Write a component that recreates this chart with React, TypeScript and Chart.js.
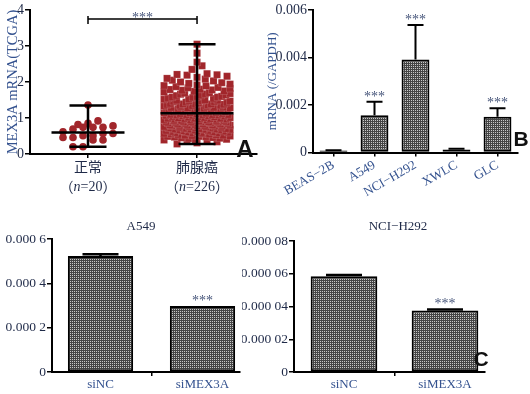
import React, { useEffect, useRef } from "react";
import { Chart, registerables } from "chart.js";

Chart.register(...registerables);

// ================= Panel A : TCGA dot plot =================
const groupLabels = ["正常", "肺腺癌"];
const groupSizes = ["20", "226"];
const normalValues = [1.36, 0.92, 0.85, 0.82, 0.78, 0.74, 0.74, 0.74, 0.69, 0.62, 0.57, 0.57, 0.51, 0.51, 0.46, 0.46, 0.39, 0.39, 0.2, 0.2];
const tumorValues = [
  0.28,
  0.31, 0.34, 0.35, 0.37, 0.39,
  0.40, 0.41, 0.43, 0.44, 0.45, 0.46, 0.47, 0.48, 0.49, 0.49,
  0.50, 0.51, 0.52, 0.52, 0.53, 0.54, 0.55, 0.56, 0.56, 0.57, 0.58, 0.58, 0.59, 0.59,
  0.60, 0.61, 0.61, 0.62, 0.63, 0.63, 0.64, 0.65, 0.65, 0.66, 0.67, 0.67, 0.68, 0.68, 0.69, 0.69, 0.69,
  0.70, 0.70, 0.71, 0.72, 0.72, 0.73, 0.74, 0.74, 0.75, 0.76, 0.76, 0.77, 0.78, 0.78, 0.79, 0.79, 0.79,
  0.80, 0.80, 0.81, 0.81, 0.82, 0.83, 0.83, 0.84, 0.85, 0.85, 0.86, 0.86, 0.87, 0.88, 0.88, 0.89, 0.89, 0.89, 0.89,
  0.90, 0.90, 0.91, 0.92, 0.92, 0.93, 0.93, 0.94, 0.95, 0.95, 0.96, 0.96, 0.97, 0.97, 0.98, 0.98, 0.99, 0.99, 0.99,
  1.00, 1.01, 1.01, 1.02, 1.03, 1.04, 1.04, 1.05, 1.06, 1.06, 1.07, 1.07, 1.08, 1.08, 1.09, 1.09, 1.09, 1.09,
  1.10, 1.11, 1.12, 1.12, 1.13, 1.14, 1.14, 1.15, 1.16, 1.16, 1.17, 1.18, 1.18, 1.19, 1.19, 1.19,
  1.20, 1.21, 1.22, 1.23, 1.23, 1.24, 1.25, 1.26, 1.26, 1.27, 1.28, 1.28, 1.29, 1.29, 1.29,
  1.30, 1.31, 1.32, 1.33, 1.34, 1.35, 1.35, 1.36, 1.37, 1.38, 1.38, 1.39, 1.39,
  1.40, 1.41, 1.43, 1.44, 1.45, 1.46, 1.47, 1.47, 1.48, 1.49, 1.49,
  1.50, 1.52, 1.53, 1.54, 1.55, 1.57, 1.58, 1.58, 1.59,
  1.60, 1.62, 1.63, 1.64, 1.66, 1.67, 1.68, 1.69,
  1.70, 1.72, 1.74, 1.75, 1.77, 1.78, 1.79,
  1.80, 1.82, 1.84, 1.85, 1.87, 1.89,
  1.90, 1.92, 1.94, 1.96, 1.98,
  2.00, 2.03, 2.05, 2.08,
  2.10, 2.13, 2.16, 2.19,
  2.20, 2.21, 2.23,
  2.35, 2.45, 2.55, 2.80, 3.05,
];
const groupMeans = [0.6, 1.13];
const groupMins = [0.2, 0.28];
const groupMaxs = [1.35, 3.05];
const yTicksA = [0, 1, 2, 3, 4];
const yTickLabelsA = ["0", "1", "2", "3", "4"];
const yTitleA = "MEX3A mRNA(TCGA)";
const sigLabelA = "***";
const sigBracketA = 3.75;

// ================= Panel B : cell lines =================
const cellLines = ["BEAS−2B", "A549", "NCI−H292", "XWLC", "GLC"];
const relExpression = [0.00008, 0.00157, 0.00392, 0.00013, 0.00151];
const relExpressionUpper = [0.0001, 0.00214, 0.00537, 0.00016, 0.00186];
const sigB = ["", "***", "***", "", "***"];
const yTicksB = [0, 0.002, 0.004, 0.006];
const yTickLabelsB = ["0", "0.002", "0.004", "0.006"];
const yTitleB = "mRNA (/GAPDH)";

// ================= Panel C : siRNA knock-down =================
const siGroups = ["siNC", "siMEX3A"];
const titleC1 = "A549";
const valuesC1 = [0.000523, 0.000298];
const upperC1 = [0.000531, 0.000298];
const sigC1 = ["", "***"];
const yTicksC1 = [0, 0.0002, 0.0004, 0.0006];
const yTickLabelsC1 = ["0", "0.000 2", "0.000 4", "0.000 6"];
const titleC2 = "NCI−H292";
const valuesC2 = [0.0000585, 0.0000375];
const upperC2 = [0.0000592, 0.0000382];
const sigC2 = ["", "***"];
const yTicksC2 = [0, 0.00002, 0.00004, 0.00006, 0.00008];
const yTickLabelsC2 = ["0", "0.000 02", "0.000 04", "0.000 06", "0.000 08"];

// ================= styles =================
const SERIF = "'Liberation Serif', 'Times New Roman', serif";
const SERIF_CJK = "'Liberation Serif', 'Noto Sans CJK SC', serif";
const CJK = "'Noto Sans CJK SC', sans-serif";
const SANS = "'Liberation Sans', Arial, sans-serif";
const INK = "#1f2a48";
const BLUE = "#34528f";
const STAR = "#46557a";
const RED = "#a1262b";

function gcd(a: number, b: number): number {
  return b === 0 ? a : gcd(b, a % b);
}

// row-based dot-plot layout (pixel offsets), GraphPad style
function swarmOffsets(values: number[], bin: number, maxStep: number, maxWidth: number, mix: boolean): number[] {
  const groups = new Map<number, number[]>();
  values.forEach((v, i) => {
    const k = Math.floor(v / bin + 1e-9);
    if (!groups.has(k)) groups.set(k, []);
    groups.get(k)!.push(i);
  });
  const off = new Array(values.length).fill(0);
  groups.forEach((idx) => {
    idx.sort((a, b) => values[a] - values[b]);
    const n = idx.length;
    const step = n > 1 ? Math.min(maxStep, maxWidth / (n - 1)) : 0;
    let s = Math.max(1, Math.round(n * 0.382));
    while (mix && n > 2 && gcd(s, n) !== 1) s++;
    idx.forEach((id, j) => {
      const slot = mix && n > 2 ? (j * s) % n : j;
      off[id] = (slot - (n - 1) / 2) * step;
    });
  });
  return off;
}

function makePattern(ctx: CanvasRenderingContext2D) {
  const c = document.createElement("canvas");
  c.width = 2;
  c.height = 2;
  const p = c.getContext("2d")!;
  p.fillStyle = "#454545";
  p.fillRect(0, 0, 2, 2);
  p.fillStyle = "#c8c8c8";
  p.fillRect(0, 0, 1, 1);
  return ctx.createPattern(c, "repeat")!;
}

function yAxis(o: {
  min: number; max: number; ticks: number[]; labels: string[]; width: number; size: number;
  title?: string; titleSize?: number; titlePad?: number;
}) {
  return {
    type: "linear",
    position: "left",
    min: o.min,
    max: o.max,
    afterBuildTicks: (s: any) => {
      s.ticks = o.ticks.map((v) => ({ value: v }));
    },
    afterFit: (s: any) => {
      s.width = o.width;
    },
    ticks: {
      callback: (_v: any, i: number) => o.labels[i],
      font: { family: SERIF, size: o.size },
      color: INK,
      padding: 1,
      autoSkip: false,
    },
    grid: { drawOnChartArea: false, drawTicks: true, tickLength: 5, color: "#000", lineWidth: 1.5 },
    border: { display: true, color: "#000", width: 2 },
    title: o.title
      ? {
          display: true,
          text: o.title,
          color: BLUE,
          font: { family: SERIF, size: o.titleSize },
          padding: { top: o.titlePad, bottom: 0 },
        }
      : { display: false },
  };
}

function drawLetter(ctx: CanvasRenderingContext2D, text: string, x: number, y: number, size: number) {
  ctx.save();
  ctx.fillStyle = "#111";
  ctx.font = `bold ${size}px ${SANS}`;
  ctx.textAlign = "center";
  ctx.textBaseline = "middle";
  ctx.fillText(text, x, y);
  ctx.restore();
}

// ---------- Panel A config ----------
function makeA() {
  const xMin = -0.532;
  const xMax = 1.55;
  const areaW = 227;
  const ppu = areaW / (xMax - xMin);
  const nOff = swarmOffsets(normalValues, 0.2, 10, 52, false);
  const tOff = swarmOffsets(tumorValues, 0.19, 10, 66, true);

  const decor = {
    id: "decorA",
    afterDatasetsDraw(chart: any) {
      const { ctx, scales } = chart;
      const x = scales.x;
      const y = scales.y;
      ctx.save();
      ctx.strokeStyle = "#000";
      ctx.lineWidth = 2.5;
      groupMeans.forEach((m, i) => {
        const cx = x.getPixelForValue(i);
        const yLo = y.getPixelForValue(groupMins[i]);
        const yHi = y.getPixelForValue(groupMaxs[i]);
        const yM = y.getPixelForValue(m);
        ctx.beginPath();
        ctx.moveTo(cx, yLo);
        ctx.lineTo(cx, yHi);
        ctx.moveTo(cx - 18.5, yLo);
        ctx.lineTo(cx + 18.5, yLo);
        ctx.moveTo(cx - 18.5, yHi);
        ctx.lineTo(cx + 18.5, yHi);
        ctx.moveTo(cx - 36.5, yM);
        ctx.lineTo(cx + 36.5, yM);
        ctx.stroke();
      });
      // significance bracket
      const x0 = x.getPixelForValue(0);
      const x1 = x.getPixelForValue(1);
      const by = y.getPixelForValue(sigBracketA);
      ctx.lineWidth = 1.5;
      ctx.beginPath();
      ctx.moveTo(x0, by - 3);
      ctx.lineTo(x0, by + 5);
      ctx.moveTo(x1, by - 3);
      ctx.lineTo(x1, by + 5);
      ctx.moveTo(x0, by);
      ctx.lineTo(x1, by);
      ctx.stroke();
      ctx.fillStyle = STAR;
      ctx.font = `14px ${SERIF}`;
      ctx.textAlign = "center";
      ctx.textBaseline = "alphabetic";
      ctx.fillText(sigLabelA, (x0 + x1) / 2, by + 3);
      ctx.restore();
    },
    afterDraw(chart: any) {
      const { ctx, scales, chartArea } = chart;
      const x = scales.x;
      ctx.save();
      ctx.fillStyle = INK;
      ctx.textAlign = "left";
      ctx.textBaseline = "middle";
      groupSizes.forEach((n, i) => {
        const cx = x.getPixelForValue(i);
        const cy = chartArea.bottom + 33;
        const parts = [
          { t: "（", f: `14px ${CJK}` },
          { t: "n", f: `italic 14px ${SERIF}` },
          { t: "=" + n, f: `14px ${SERIF}` },
          { t: "）", f: `14px ${CJK}` },
        ];
        const widths = parts.map((p) => {
          ctx.font = p.f;
          return ctx.measureText(p.t).width;
        });
        let xx = cx - widths.reduce((a, b) => a + b, 0) / 2;
        parts.forEach((p, k) => {
          ctx.font = p.f;
          ctx.fillText(p.t, xx, cy);
          xx += widths[k];
        });
      });
      ctx.restore();
      drawLetter(ctx, "A", chartArea.right - 12, chartArea.bottom - 4, 24);
    },
  };

  return {
    type: "scatter",
    data: {
      datasets: [
        {
          data: normalValues.map((v, i) => ({ x: 0 + nOff[i] / ppu, y: v })),
          pointStyle: "circle",
          pointRadius: 3.8,
          backgroundColor: RED,
          borderWidth: 0,
        },
        {
          data: tumorValues.map((v, i) => ({ x: 1 + tOff[i] / ppu, y: v })),
          pointStyle: "rect",
          pointRadius: 5,
          backgroundColor: RED,
          borderColor: "rgba(255,255,255,0.3)",
          borderWidth: 0.5,
        },
      ],
    },
    options: {
      responsive: false,
      animation: false,
      events: [],
      layout: { padding: { left: 0, top: 10, right: 8, bottom: 0 } },
      plugins: { legend: { display: false }, tooltip: { enabled: false } },
      scales: {
        x: {
          type: "linear",
          min: xMin,
          max: xMax,
          afterBuildTicks: (s: any) => {
            s.ticks = [{ value: 0 }, { value: 1 }];
          },
          afterFit: (s: any) => {
            s.height = 46;
          },
          ticks: {
            callback: (_v: any, i: number) => groupLabels[i],
            font: { family: SERIF_CJK, size: 14 },
            color: INK,
            padding: 2,
            minRotation: 0,
            maxRotation: 0,
          },
          grid: { drawOnChartArea: false, tickLength: 4, color: "#000", lineWidth: 1.5 },
          border: { display: true, color: "#000", width: 2 },
        },
        y: yAxis({ min: 0, max: 4, ticks: yTicksA, labels: yTickLabelsA, width: 30, size: 14, title: yTitleA, titleSize: 14.5, titlePad: 4 }),
      },
    },
    plugins: [decor],
  };
}

function barDecor(o: {
  upper: number[]; sig: string[]; capHalf: number; lw: number; starSize: number; starColor: string;
  title?: string; titleDx?: number; titleY?: number; letter?: string; letterDx?: number; letterDy?: number;
}) {
  return {
    id: "barDecor",
    afterDatasetsDraw(chart: any) {
      const { ctx, scales } = chart;
      const y = scales.y;
      const bars = chart.getDatasetMeta(0).data;
      ctx.save();
      ctx.strokeStyle = "#000";
      ctx.lineWidth = o.lw;
      bars.forEach((bar: any, i: number) => {
        const top = bar.y;
        const up = y.getPixelForValue(o.upper[i]);
        if (up < top - 0.3) {
          ctx.beginPath();
          ctx.moveTo(bar.x, top);
          ctx.lineTo(bar.x, up);
          ctx.moveTo(bar.x - o.capHalf, up);
          ctx.lineTo(bar.x + o.capHalf, up);
          ctx.stroke();
        }
        if (o.sig[i]) {
          ctx.fillStyle = o.starColor;
          ctx.font = `${o.starSize}px ${SERIF}`;
          ctx.textAlign = "center";
          ctx.textBaseline = "alphabetic";
          ctx.fillText(o.sig[i], bar.x, Math.min(up, top) - 1);
        }
      });
      ctx.restore();
    },
    afterDraw(chart: any) {
      const { ctx, chartArea } = chart;
      if (o.title) {
        ctx.save();
        ctx.fillStyle = INK;
        ctx.font = `13px ${SERIF}`;
        ctx.textAlign = "center";
        ctx.textBaseline = "middle";
        ctx.fillText(o.title, (chartArea.left + chartArea.right) / 2 + (o.titleDx || 0), o.titleY || 12);
        ctx.restore();
      }
      if (o.letter) {
        drawLetter(ctx, o.letter, chartArea.right + (o.letterDx || 0), chartArea.bottom + (o.letterDy || 0), 21);
      }
    },
  };
}

// ---------- Panel B config ----------
function makeB(ctx: CanvasRenderingContext2D) {
  return {
    type: "bar",
    data: {
      labels: cellLines,
      datasets: [
        {
          data: relExpression,
          backgroundColor: makePattern(ctx),
          borderColor: "#000",
          borderWidth: 2,
          borderSkipped: false,
          barPercentage: 0.68,
          categoryPercentage: 1,
        },
      ],
    },
    options: {
      responsive: false,
      animation: false,
      events: [],
      layout: { padding: { left: 0, top: 10, right: 12, bottom: 0 } },
      plugins: { legend: { display: false }, tooltip: { enabled: false } },
      scales: {
        x: {
          type: "category",
          offset: true,
          afterFit: (s: any) => {
            s.height = 47.5;
          },
          ticks: {
            font: { family: SERIF, size: 13 },
            color: BLUE,
            minRotation: 30,
            maxRotation: 30,
            padding: 1,
            autoSkip: false,
          },
          grid: { offset: false, drawOnChartArea: false, tickLength: 4, color: "#000", lineWidth: 1.5 },
          border: { display: true, color: "#000", width: 2 },
        },
        y: yAxis({ min: 0, max: 0.006, ticks: yTicksB, labels: yTickLabelsB, width: 48, size: 14, title: yTitleB, titleSize: 13, titlePad: 0 }),
      },
    },
    plugins: [
      barDecor({ upper: relExpressionUpper, sig: sigB, capHalf: 8, lw: 2, starSize: 14, starColor: STAR, letter: "B", letterDx: 3, letterDy: -12 }),
    ],
  };
}

// ---------- Panel C configs ----------
function makeC(
  ctx: CanvasRenderingContext2D,
  p: {
    values: number[]; upper: number[]; sig: string[]; ticks: number[]; labels: string[]; max: number;
    xMin: number; xMax: number; barPct: number; padTop: number; padRight: number;
    title: string; titleDx: number; letter?: string;
  }
) {
  return {
    type: "bar",
    data: {
      datasets: [
        {
          data: p.values.map((v, i) => ({ x: i, y: v })),
          backgroundColor: makePattern(ctx),
          borderColor: "#000",
          borderWidth: 2,
          borderSkipped: false,
          barPercentage: p.barPct,
          categoryPercentage: 1,
        },
      ],
    },
    options: {
      responsive: false,
      animation: false,
      events: [],
      layout: { padding: { left: 0, top: p.padTop, right: p.padRight, bottom: 0 } },
      plugins: { legend: { display: false }, tooltip: { enabled: false } },
      scales: {
        x: {
          type: "linear",
          offset: false,
          min: p.xMin,
          max: p.xMax,
          afterBuildTicks: (s: any) => {
            s.ticks = [{ value: 0 }, { value: 1 }];
          },
          afterFit: (s: any) => {
            s.height = 22;
          },
          ticks: {
            callback: (_v: any, i: number) => siGroups[i],
            font: { family: SERIF, size: 13 },
            color: BLUE,
            padding: 1,
            minRotation: 0,
            maxRotation: 0,
          },
          grid: { drawOnChartArea: false, tickLength: 4, color: "#000", lineWidth: 1.5 },
          border: { display: true, color: "#000", width: 2 },
        },
        y: yAxis({ min: 0, max: p.max, ticks: p.ticks, labels: p.labels, width: 52, size: 13.5 }),
      },
    },
    plugins: [
      barDecor({
        upper: p.upper, sig: p.sig, capHalf: 18, lw: 2.5, starSize: 14, starColor: STAR,
        title: p.title, titleDx: p.titleDx, titleY: 12, letter: p.letter, letterDx: -4, letterDy: -12,
      }),
    ],
  };
}

function Panel({ make, left, top, width, height }: { make: (ctx: CanvasRenderingContext2D) => any; left: number; top: number; width: number; height: number }) {
  const ref = useRef<HTMLCanvasElement>(null);
  useEffect(() => {
    const canvas = ref.current!;
    const ctx = canvas.getContext("2d")!;
    const chart = new Chart(canvas, make(ctx));
    return () => chart.destroy();
  }, []);
  return (
    <canvas
      ref={ref}
      width={width}
      height={height}
      style={{ position: "absolute", left, top, width, height }}
    />
  );
}

export default function App() {
  return (
    <div style={{ position: "absolute", left: 0, top: 0, width: 530, height: 394, background: "#fff", overflow: "hidden" }}>
      <Panel make={() => makeA()} left={0} top={0} width={265} height={200} />
      <Panel make={(ctx) => makeB(ctx)} left={265} top={0} width={265} height={200} />
      <Panel
        make={(ctx) =>
          makeC(ctx, {
            values: valuesC1, upper: upperC1, sig: sigC1, ticks: yTicksC1, labels: yTickLabelsC1, max: 0.0006,
            xMin: -0.4755, xMax: 1.3676, barPct: 0.64, padTop: 24, padRight: 5, title: titleC1, titleDx: -5,
          })
        }
        left={0}
        top={215}
        width={245}
        height={179}
      />
      <Panel
        make={(ctx) =>
          makeC(ctx, {
            values: valuesC2, upper: upperC2, sig: sigC2, ticks: yTicksC2, labels: yTickLabelsC2, max: 0.00008,
            xMin: -0.495, xMax: 1.396, barPct: 0.66, padTop: 26, padRight: 45, title: titleC2, titleDx: 8.5, letter: "C",
          })
        }
        left={242}
        top={215}
        width={288}
        height={179}
      />
    </div>
  );
}
